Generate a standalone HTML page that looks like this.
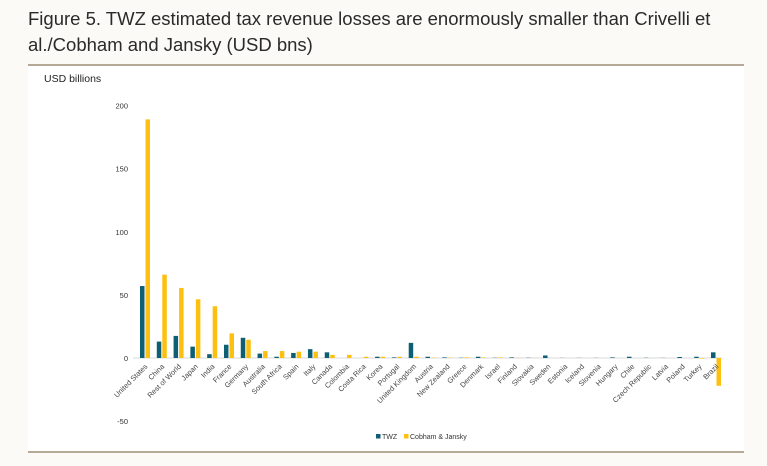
<!DOCTYPE html>
<html><head><meta charset="utf-8">
<style>
body{margin:0;width:767px;height:466px;background:#fbfaf7;font-family:"Liberation Sans",sans-serif;overflow:hidden;position:relative}
#title{position:absolute;left:28px;top:6px;font-size:18.5px;line-height:26px;color:#2a2a2a;width:730px}
#panel{position:absolute;left:28px;top:66px;width:716px;height:386px;background:#fff}
.rule{position:absolute;left:28px;width:716px;height:1.5px;background:#b6a998}
svg{position:absolute;left:0;top:0}
</style></head><body>
<div id="title">Figure 5. TWZ estimated tax revenue losses are enormously smaller than Crivelli et al./Cobham and Jansky (USD bns)</div>
<div id="panel"></div>
<div class="rule" style="top:64px"></div>
<div class="rule" style="top:451px"></div>
<svg id="chart" width="767" height="466"></svg>
<script>
const categories=["United States","China","Rest of World","Japan","India","France","Germany","Australia","South Africa","Spain","Italy","Canada","Colombia","Costa Rica","Korea","Portugal","United Kingdom","Austria","New Zealand","Greece","Denmark","Israel","Finland","Slovakia","Sweden","Estonia","Iceland","Slovenia","Hungary","Chile","Czech Republic","Latvia","Poland","Turkey","Brazil"];
const twz=[57,13,17.5,9,3,10.5,16,3.5,1,4,7,4.5,0,0,1,0.5,12,1,0.5,0.2,1,0.2,0.5,0.2,2,0.1,0.1,0.1,0.5,1,0.2,0.1,0.8,1,4.5];
const cobham=[189,66,55.5,46.5,41,19.5,14.5,5.5,5.5,5,5,2.5,2.5,1,1,1,1,0.3,0.3,0.5,0.5,0.5,0.1,0.1,0,0,0,0,0,0,0,0,0,-0.5,-22];
const yTicks=[-50,0,50,100,150,200];
const NS="http://www.w3.org/2000/svg";
const svg=document.getElementById('chart');
const x0=133,x1=722,yZero=358,pxPer=1.2625;
const y=v=>yZero-v*pxPer;
const step=(711-140)/(categories.length-1);
const xc=i=>145+step*i;
function mk(t,a){const e=document.createElementNS(NS,t);for(const k in a)e.setAttribute(k,a[k]);svg.appendChild(e);return e;}
let e=mk('text',{x:44,y:82,'font-size':10.5,fill:'#222'});e.textContent='USD billions';


yTicks.forEach(t=>{const el=mk('text',{x:128,y:y(t)+3,'font-size':7.5,fill:'#333','text-anchor':'end'});el.textContent=t;

});
const ax=mk('line',{x1:x0,x2:x1,y1:yZero,y2:yZero,stroke:'#d9d9d9','stroke-width':1});


categories.forEach((c,i)=>{
  const cx=xc(i);
  const a=twz[i],b=cobham[i];
  const r1=mk('rect',{x:cx-5,y:Math.min(y(a),yZero),width:4.5,height:Math.abs(y(a)-yZero),fill:'#0e5f74'});
  
  
  const r2=mk('rect',{x:cx+0.5,y:Math.min(y(b),yZero),width:4.5,height:Math.abs(y(b)-yZero),fill:'#fdc010'});
  
  
  const lab=mk('text',{x:cx+3,y:367,'font-size':7.3,fill:'#444','text-anchor':'end',transform:`rotate(-45 ${cx+3} 367)`});
  lab.textContent=c;
  
  
});
const l1=mk('rect',{x:376,y:434,width:4.5,height:4.5,fill:'#0e5f74'});


const t1=mk('text',{x:382,y:439,'font-size':7,fill:'#333'});t1.textContent='TWZ';


const l2=mk('rect',{x:404,y:434,width:4.5,height:4.5,fill:'#fdc010'});


const t2=mk('text',{x:410,y:439,'font-size':7,fill:'#333'});t2.textContent='Cobham & Jansky';


</script>
</body></html>
